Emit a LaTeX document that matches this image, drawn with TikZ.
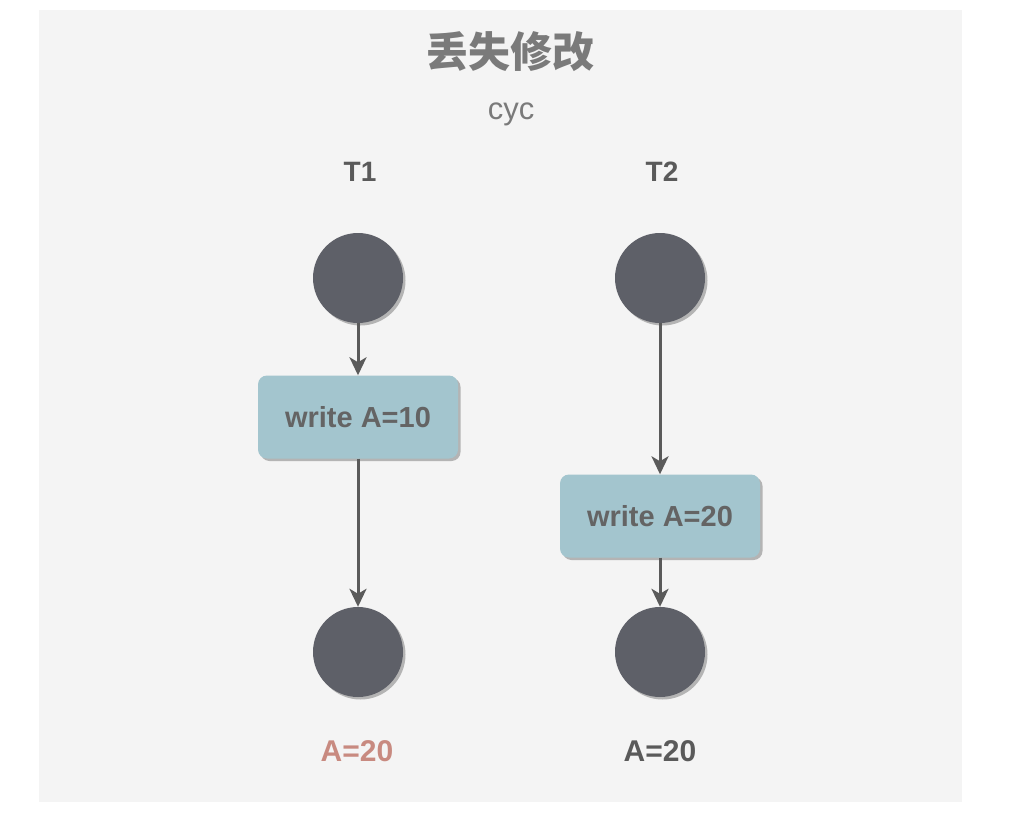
\documentclass[tikz,border=0pt]{standalone}
\usepackage{fontspec}
\setmainfont{Liberation Sans}
\newfontfamily\cjk{Noto Sans CJK SC}
\usetikzlibrary{arrows.meta,shadows}
\definecolor{panel}{HTML}{F4F4F4}
\definecolor{dot}{HTML}{5E6068}
\definecolor{boxfill}{HTML}{A3C5CE}
\definecolor{txt}{HTML}{5A5A5A}
\definecolor{boxtxt}{HTML}{646464}
\definecolor{titlec}{HTML}{7A7A7A}
\definecolor{redtxt}{HTML}{C88A80}
\definecolor{arrowc}{HTML}{5A5A5A}
\definecolor{shadowc}{HTML}{B4B4B4}
\tikzset{
  dotnode/.style={circle, fill=dot, minimum size=90pt, inner sep=0pt,
    drop shadow={shadow xshift=2.5pt, shadow yshift=-2.5pt, fill=shadowc, opacity=1}},
  writebox/.style={rounded corners=9pt, fill=boxfill, minimum width=200pt, minimum height=83pt,
    inner sep=0pt, text=boxtxt, font=\fontsize{29}{34}\selectfont\bfseries,
    drop shadow={shadow xshift=2.5pt, shadow yshift=-2.5pt, fill=shadowc, opacity=1}},
  lbl/.style={text=txt, font=\fontsize{28}{34}\selectfont\bfseries},
  conn/.style={draw=arrowc, line width=3pt, -{Stealth[length=18pt,width=17pt,inset=5pt]}}
}
\begin{document}
\begin{tikzpicture}[x=1pt,y=-1pt]
\useasboundingbox (0,0) rectangle (1017,821);
\fill[white] (0,0) rectangle (1017,821);
\fill[panel] (39,10) rectangle (962,802);
\node[text=titlec, font=\cjk\fontsize{42}{48}\selectfont\bfseries] (title) at (510,52) {丢失修改};
\node[text=titlec, font=\fontsize{31}{36}\selectfont] (author) at (511,114) {cyc};
\node[lbl] (t1) at (360,172) {T1};
\node[lbl] (t2) at (662,172) {T2};
\node[dotnode] (t1s) at (358,278) {};
\node[dotnode] (t2s) at (660,278) {};
\node[dotnode] (t1e) at (358,652) {};
\node[dotnode] (t2e) at (660,652) {};
\node[writebox] (b1) at (358,417) {write A=10};
\node[writebox] (b2) at (660,516) {write A=20};
\node[lbl, text=redtxt, font=\fontsize{30}{36}\selectfont\bfseries] (r1) at (357,751) {A=20};
\node[lbl, font=\fontsize{30}{36}\selectfont\bfseries] (r2) at (660,751) {A=20};
\draw[conn] (t1s.south) -- (b1.north);
\draw[conn] (b1.south) -- (t1e.north);
\draw[conn] (t2s.south) -- (b2.north);
\draw[conn] (b2.south) -- (t2e.north);
\end{tikzpicture}
\end{document}
